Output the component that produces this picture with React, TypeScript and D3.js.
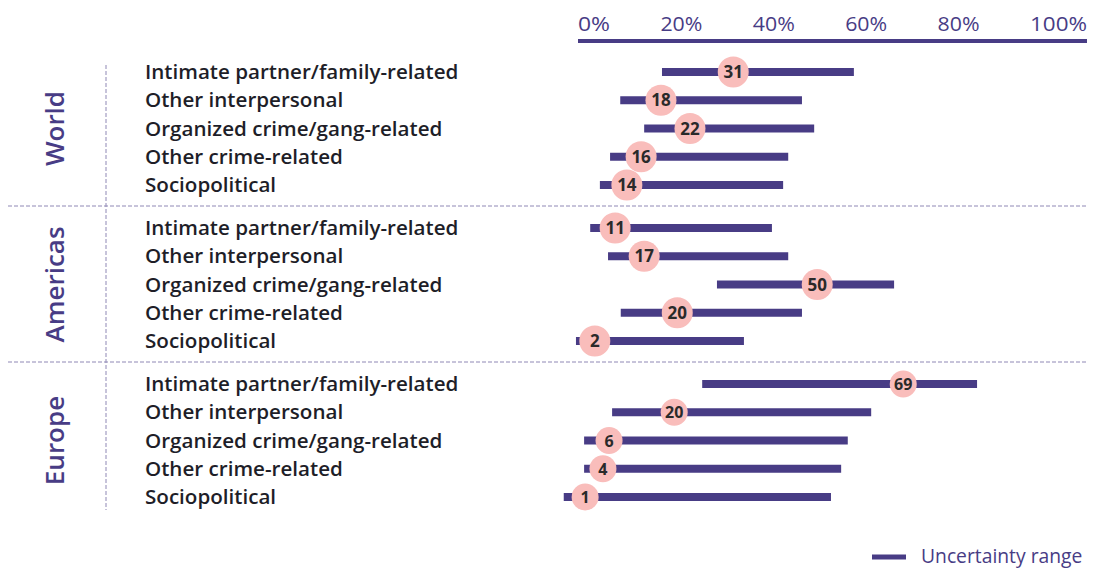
import React from "react";
import * as d3 from "d3";

const groups = ["World", "Americas", "Europe"];
const categories = [
  "Intimate partner/family-related",
  "Other interpersonal",
  "Organized crime/gang-related",
  "Other crime-related",
  "Sociopolitical",
];
const tickLabels = ["0%", "20%", "40%", "60%", "80%", "100%"];

// Uncertainty range (low / high) per group, per category, estimated in %
const worldLow = [16.5, 8.3, 13.0, 6.3, 4.3];
const worldHigh = [54.2, 44.0, 46.4, 41.3, 40.3];
const worldPoint = [30.5, 16.3, 22.0, 12.4, 9.6];
const worldLabel = [31, 18, 22, 16, 14];

const americasLow = [2.4, 5.9, 27.3, 8.4, -0.4];
const americasHigh = [38.1, 41.3, 62.1, 44.0, 32.6];
const americasPoint = [7.3, 13.0, 47.0, 19.5, 3.3];
const americasLabel = [11, 17, 50, 20, 2];

const europeLow = [24.4, 6.7, 1.2, 1.2, -2.8];
const europeHigh = [78.4, 57.6, 53.0, 51.7, 49.7];
const europePoint = [63.9, 18.9, 6.1, 4.9, 1.4];
const europeLabel = [69, 20, 6, 4, 1];

const lows = [worldLow, americasLow, europeLow];
const highs = [worldHigh, americasHigh, europeHigh];
const points = [worldPoint, americasPoint, europePoint];
const labels = [worldLabel, americasLabel, europeLabel];

const W = 1095;
const H = 568;
const PURPLE = "#483c85";
const PINK = "#f9bdbb";
const FONT = "'Open Sans', 'Noto Sans', sans-serif";

export default function App() {
  const x = d3.scaleLinear().domain([0, 100]).range([578, 1087]);
  const groupY = d3.scaleBand<string>().domain(groups).range([58, 526]).paddingInner(0);
  const rowY = d3.scaleLinear().domain([0, 4]).range([0, 113]);
  const groupTop = (g: string) => (groupY(g) as number) + 14;
  const radius = [15.5, 15.5, 13.5];

  // evenly justified tick labels across the axis (space-between)
  const tickWidths = [32, 42, 42, 42, 42, 57];
  const total = tickWidths.reduce((a, b) => a + b, 0);
  const gap = (x(100) - x(0) - total) / (tickLabels.length - 1);
  let cursor = x(0);
  const tickPos = tickWidths.map((w) => {
    const p = cursor;
    cursor += w + gap;
    return p;
  });

  return (
    <div style={{ position: "absolute", left: 0, top: 0 }}>
      <svg width={W} height={H} style={{ display: "block", fontFamily: FONT }}>
        <rect width={W} height={H} fill="#fff" />
        {/* axis */}
        {tickLabels.map((t, i) => (
          <text
            key={t}
            x={tickPos[i]}
            y={31}
            fontSize={20}
            fill={PURPLE}
            textLength={tickWidths[i]}
            lengthAdjust="spacingAndGlyphs"
          >
            {t}
          </text>
        ))}
        <line x1={x(0)} x2={x(100)} y1={41} y2={41} stroke={PURPLE} strokeWidth={4} />

        {/* separators */}
        {[206, 362].map((yy) => (
          <line key={yy} x1={8} x2={1087} y1={yy} y2={yy} stroke="#8f88b5" strokeWidth={1} strokeDasharray="4,2" />
        ))}
        <line x1={106} x2={106} y1={65} y2={510} stroke="#8f88b5" strokeWidth={1} strokeDasharray="4,2" />

        {groups.map((g, gi) => {
          const top = groupTop(g);
          const mid = top + rowY(2);
          return (
            <g key={g}>
              <text
                transform={`translate(${64},${mid}) rotate(-90)`}
                textAnchor="middle"
                fontSize={26}
                fontWeight={600}
                fill={PURPLE}
              >
                {g}
              </text>
              {categories.map((c, ci) => {
                const yy = top + rowY(ci);
                return (
                  <g key={c}>
                    <text x={145} y={yy + 7} fontSize={20.6} fontWeight={600} fill="#1e1e28">
                      {c}
                    </text>
                    <rect
                      x={x(lows[gi][ci])}
                      y={yy - 4}
                      width={x(highs[gi][ci]) - x(lows[gi][ci])}
                      height={8}
                      fill={PURPLE}
                    />
                    <circle cx={x(points[gi][ci])} cy={yy} r={radius[gi]} fill={PINK} />
                    <text
                      x={x(points[gi][ci])}
                      y={yy + 6}
                      textAnchor="middle"
                      fontSize={gi === 2 ? 16 : 17}
                      fontWeight={700}
                      fill="#2a2a2a"
                    >
                      {labels[gi][ci]}
                    </text>
                  </g>
                );
              })}
            </g>
          );
        })}

        {/* legend */}
        <line x1={872} x2={906} y1={557} y2={557} stroke={PURPLE} strokeWidth={5} />
        <text x={921} y={563} fontSize={19.3} fill={PURPLE}>
          Uncertainty range
        </text>
      </svg>
    </div>
  );
}
